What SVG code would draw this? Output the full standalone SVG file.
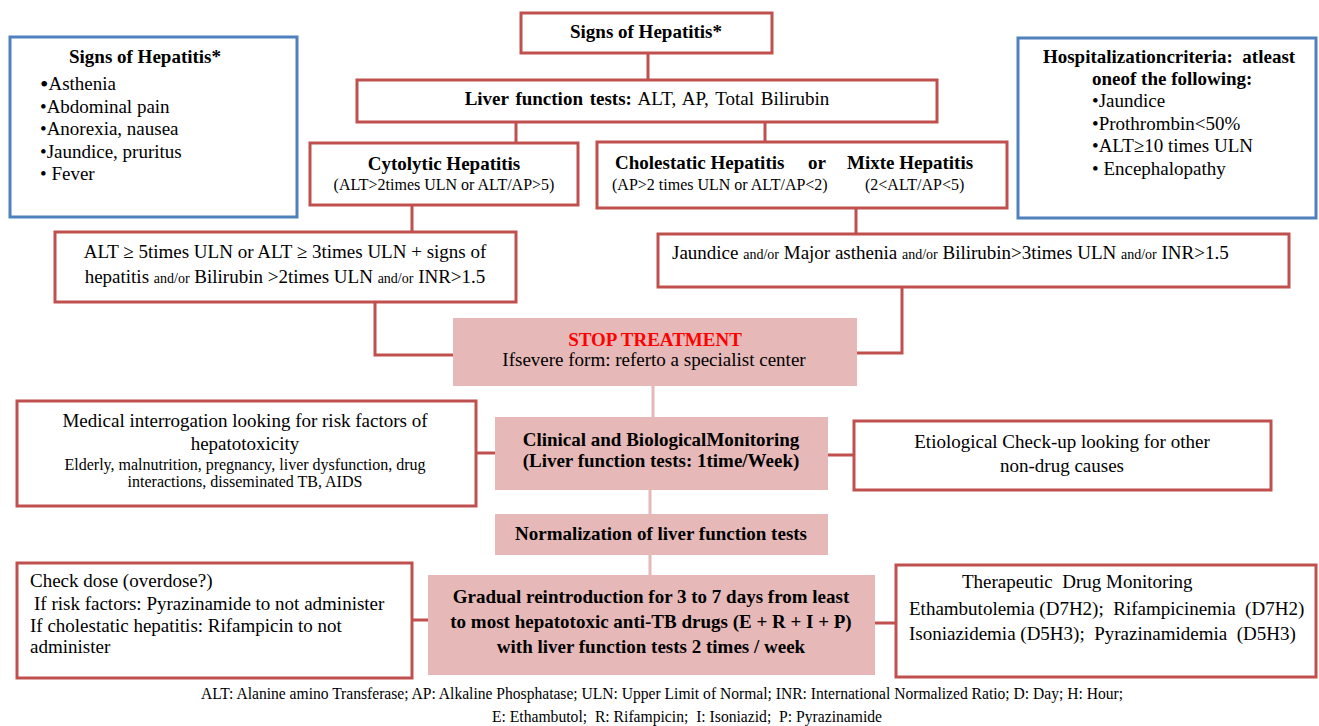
<svg xmlns="http://www.w3.org/2000/svg" width="1319" height="726" viewBox="0 0 1319 726">
<style>
.rb{fill:#fff;stroke:#c0504d;stroke-width:3}
.bb{fill:#fff;stroke:#4f81bd;stroke-width:3}
.pk{fill:#e6b9b8}
text{font-family:"Liberation Serif","Times New Roman","DejaVu Serif",serif;font-size:19px;fill:#000}
.b{font-weight:bold}
.s{font-size:16px}
.xs{font-size:14px}
.c{text-anchor:middle}
.lr{stroke:#c0504d;stroke-width:3;fill:none}
.lp{stroke:#e6b9b8;stroke-width:3;fill:none}
.red{fill:#ff0000}
</style>
<rect width="1319" height="726" fill="#fff"/>
<g id="connectors">
<path class="lr" d="M648,53 V80 M516,122 V143 M765,122 V142 M412,205 V232 M856,208 V234 M375,302 V355 H453 M902,287 V353 H857 M476,453 H495 M828,455 H854 M412,620 H428 M875,623 H896"/>
<path class="lp" d="M653,386 V417 M650,490 V514 M650,555 V575"/>
</g>
<g id="signs-top">
<rect class="rb" x="521" y="13" width="251" height="40"/>
<text class="b c" x="646" y="38">Signs of Hepatitis*</text>
</g>
<g id="liver-tests">
<rect class="rb" x="357" y="80" width="580" height="42"/>
<text class="c" x="647" y="105" word-spacing="2"><tspan class="b">Liver function tests:</tspan> ALT, AP, Total Bilirubin</text>
</g>
<g id="cytolytic">
<rect class="rb" x="310" y="143" width="268" height="62"/>
<text class="b c" x="444" y="170">Cytolytic Hepatitis</text>
<text class="s c" x="444" y="190">(ALT&gt;2times ULN or ALT/AP&gt;5)</text>
</g>
<g id="cholestatic">
<rect class="rb" x="597" y="142" width="410" height="66"/>
<text class="b" x="615" y="169">Cholestatic Hepatitis</text>
<text class="b" x="808" y="169">or</text>
<text class="b" x="847" y="169">Mixte Hepatitis</text>
<text class="s" x="612" y="190">(AP&gt;2 times ULN or ALT/AP&lt;2)</text>
<text class="s" x="865" y="190">(2&lt;ALT/AP&lt;5)</text>
</g>
<g id="signs-left">
<rect class="bb" x="10" y="37" width="287" height="180"/>
<text class="b c" x="145" y="63">Signs of Hepatitis*</text>
<text x="40" y="90"><tspan font-size="24" dy="2">•</tspan><tspan dy="-2">Asthenia</tspan></text>
<text x="40" y="113">•Abdominal pain</text>
<text x="40" y="135">•Anorexia, nausea</text>
<text x="40" y="158">•Jaundice, pruritus</text>
<text x="40" y="180">• Fever</text>
</g>
<g id="hospitalization">
<rect class="bb" x="1018" y="38" width="298" height="180"/>
<text class="b c" x="1169" y="63">Hospitalizationcriteria:&#160; atleast</text>
<text class="b" x="1092" y="85">oneof the following:</text>
<text x="1092" y="107">•Jaundice</text>
<text x="1092" y="130">•Prothrombin&lt;50%</text>
<text x="1092" y="152">•ALT≥10 times ULN</text>
<text x="1092" y="175">• Encephalopathy</text>
</g>
<g id="alt-criteria">
<rect class="rb" x="55" y="232" width="461" height="70"/>
<text class="c" x="285" y="258">ALT ≥ 5times ULN or ALT ≥ 3times ULN + signs of</text>
<text class="c" x="285" y="283">hepatitis <tspan class="xs">and/or</tspan> Bilirubin &gt;2times ULN <tspan class="xs">and/or</tspan> INR&gt;1.5</text>
</g>
<g id="jaundice-criteria">
<rect class="rb" x="658" y="234" width="631" height="53"/>
<text x="672" y="259">Jaundice <tspan class="xs">and/or</tspan> Major asthenia <tspan class="xs">and/or</tspan> Bilirubin&gt;3times ULN <tspan class="xs">and/or</tspan> INR&gt;1.5</text>
</g>
<g id="stop">
<rect class="pk" x="453" y="318" width="404" height="68"/>
<text class="b c red" x="655" y="346">STOP TREATMENT</text>
<text class="c" x="654" y="366">Ifsevere form: referto a specialist center</text>
</g>
<g id="monitoring">
<rect class="pk" x="495" y="417" width="333" height="73"/>
<text class="b c" x="661" y="446">Clinical and BiologicalMonitoring</text>
<text class="b c" x="661" y="467">(Liver function tests: 1time/Week)</text>
</g>
<g id="normalization">
<rect class="pk" x="495" y="514" width="333" height="41"/>
<text class="b c" x="661" y="540">Normalization of liver function tests</text>
</g>
<g id="reintroduction">
<rect class="pk" x="428" y="575" width="447" height="100"/>
<text class="b c" x="651" y="603">Gradual reintroduction for 3 to 7 days from least</text>
<text class="b c" x="651" y="628">to most hepatotoxic anti-TB drugs (E + R + I + P)</text>
<text class="b c" x="651" y="653">with liver function tests 2 times / week</text>
</g>
<g id="interrogation">
<rect class="rb" x="17" y="401" width="459" height="105"/>
<text class="c" x="245" y="427">Medical interrogation looking for risk factors of</text>
<text class="c" x="245" y="450">hepatotoxicity</text>
<text class="s c" x="245" y="470">Elderly, malnutrition, pregnancy, liver dysfunction, drug</text>
<text class="s c" x="245" y="487">interactions, disseminated TB, AIDS</text>
</g>
<g id="etiological">
<rect class="rb" x="854" y="421" width="417" height="69"/>
<text class="c" x="1062" y="448">Etiological Check-up looking for other</text>
<text class="c" x="1062" y="472">non-drug causes</text>
</g>
<g id="check-dose">
<rect class="rb" x="17" y="563" width="395" height="115"/>
<text x="30" y="587">Check dose (overdose?)</text>
<text x="34" y="610">If risk factors: Pyrazinamide to not administer</text>
<text x="30" y="632">If cholestatic hepatitis: Rifampicin to not</text>
<text x="30" y="653">administer</text>
</g>
<g id="tdm">
<rect class="rb" x="896" y="565" width="420" height="112"/>
<text x="962" y="588">Therapeutic&#160; Drug Monitoring</text>
<text x="909" y="615">Ethambutolemia (D7H2);&#160; Rifampicinemia&#160; (D7H2)</text>
<text x="909" y="640">Isoniazidemia (D5H3);&#160; Pyrazinamidemia&#160; (D5H3)</text>
</g>
<g id="footer">
<text class="s c" x="662" y="699" textLength="922" lengthAdjust="spacingAndGlyphs">ALT: Alanine amino Transferase; AP: Alkaline Phosphatase; ULN: Upper Limit of Normal; INR: International Normalized Ratio; D: Day; H: Hour;</text>
<text class="s c" x="687" y="722" textLength="390" lengthAdjust="spacingAndGlyphs">E: Ethambutol;&#160; R: Rifampicin;&#160; I: Isoniazid;&#160; P: Pyrazinamide</text>
</g>
</svg>
